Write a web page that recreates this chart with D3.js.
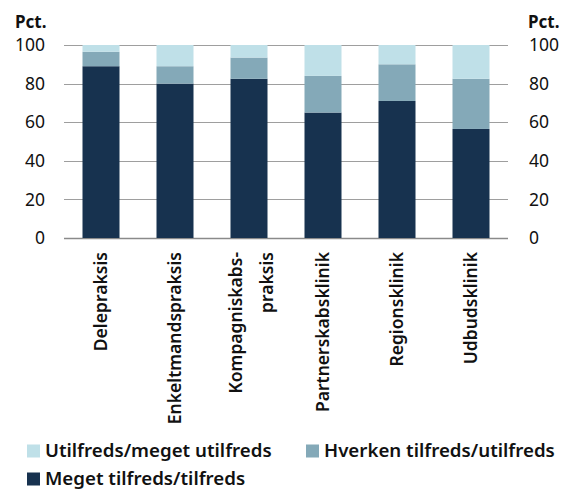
<!DOCTYPE html>
<html>
<head>
<meta charset="utf-8">
<script src="https://cdn.jsdelivr.net/npm/d3@7"></script>
<style>
  body { margin: 0; background: #fff; }
  svg text { font-family: "Noto Sans", sans-serif; fill: #111; }
</style>
</head>
<body>
<div id="drawing_region"></div>
<script>
const categories = ["Delepraksis", "Enkeltmandspraksis", "Kompagniskabs-\npraksis", "Partnerskabsklinik", "Regionsklinik", "Udbudsklinik"];
const tilfreds = [89, 80, 82.5, 65, 71, 56.5];
const hverken = [7.5, 9, 11, 19, 19, 26];
const utilfreds = [3.5, 11, 6.5, 16, 10, 17.5];
const yTicks = [0, 20, 40, 60, 80, 100];

const seriesNames = ["Meget tilfreds/tilfreds", "Hverken tilfreds/utilfreds", "Utilfreds/meget utilfreds"];
const colors = ["#17324f", "#84a9b8", "#bfe0e8"];

const width = 564, height = 489;
const margin = { top: 45, right: 56, bottom: 251, left: 64 };
const innerW = width - margin.left - margin.right;
const innerH = height - margin.top - margin.bottom;

const svg = d3.select("#drawing_region").append("svg")
    .attr("width", width)
    .attr("height", height);

const chart = svg.append("g")
    .attr("transform", `translate(${margin.left}, ${margin.top})`);

const xscale = d3.scaleBand().domain(categories).range([0, innerW]).paddingInner(0.5).paddingOuter(0.25);
const yscale = d3.scaleLinear().domain([0, 100]).range([innerH, 0]);

// grid lines
chart.append("g").selectAll("line").data(yTicks).join("line")
    .attr("x1", 0).attr("x2", innerW)
    .attr("y1", d => Math.round(yscale(d)) + 0.5).attr("y2", d => Math.round(yscale(d)) + 0.5)
    .attr("stroke", d => d === 0 ? "#8a8a8a" : "#9e9e9e")
    .attr("stroke-width", d => d === 0 ? 1.5 : 1);

// stacked bars
const rows = categories.map((c, i) => ({ cat: c, s0: tilfreds[i], s1: hverken[i], s2: utilfreds[i] }));
const stack = d3.stack().keys(["s0", "s1", "s2"])(rows);

chart.append("g").selectAll("g").data(stack).join("g")
    .attr("fill", (d, i) => colors[i])
    .selectAll("rect").data(d => d).join("rect")
    .attr("x", d => xscale(d.data.cat))
    .attr("width", xscale.bandwidth())
    .attr("y", d => yscale(d[1]))
    .attr("height", d => yscale(d[0]) - yscale(d[1]));

// y axes left and right
const yaxisL = d3.axisLeft(yscale).tickValues(yTicks).tickSize(0).tickPadding(19);
const yaxisR = d3.axisRight(yscale).tickValues(yTicks).tickSize(0).tickPadding(21);

const gl = chart.append("g").call(yaxisL);
const gr = chart.append("g").attr("transform", `translate(${innerW}, 0)`).call(yaxisR);
[gl, gr].forEach(g => {
    g.select(".domain").remove();
    g.selectAll("text").attr("font-size", 17.5).attr("font-family", "Noto Sans").attr("fill", "#111");
});

// unit labels above both axes
svg.append("text").attr("x", 15).attr("y", 28).attr("font-size", 17).attr("font-weight", 700).text("Pct.");
svg.append("text").attr("x", 528).attr("y", 28).attr("font-size", 17).attr("font-weight", 700).text("Pct.");

// x labels (rotated)
const xl = chart.append("g").selectAll("text").data(categories).join("text")
    .attr("transform", d => `translate(${xscale(d) + xscale.bandwidth() / 2}, ${innerH + 14}) rotate(-90)`)
    .attr("text-anchor", "end")
    .attr("font-size", 17.5)
    .attr("font-weight", 600);

xl.each(function(d) {
    const lines = d.split("\n");
    const t = d3.select(this);
    const n = lines.length;
    lines.forEach((ln, k) => {
        t.append("tspan")
            .attr("x", 0)
            .attr("y", n === 1 ? 6.3 : (k === 0 ? -7 : 23.5))
            .text(ln);
    });
});

// legend
const legend = [
    { name: seriesNames[2], color: colors[2], x: 27, y: 457 },
    { name: seriesNames[1], color: colors[1], x: 306, y: 457 },
    { name: seriesNames[0], color: colors[0], x: 27, y: 485 }
];
const lg = svg.append("g").selectAll("g").data(legend).join("g")
    .attr("transform", d => `translate(${d.x}, ${d.y})`);
lg.append("rect").attr("x", 0).attr("y", -12.5).attr("width", 13).attr("height", 13).attr("fill", d => d.color);
lg.append("text").attr("x", 18).attr("y", 0).attr("font-size", 18.7).attr("font-weight", 600).text(d => d.name);
</script>
</body>
</html>
